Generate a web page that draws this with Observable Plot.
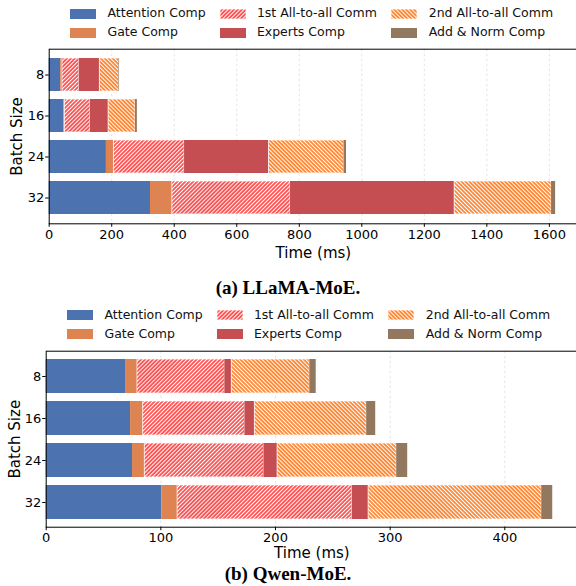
<!DOCTYPE html>
<html>
<head>
<meta charset="utf-8">
<script src="https://cdn.jsdelivr.net/npm/d3@7"></script>
<script src="https://cdn.jsdelivr.net/npm/@observablehq/plot@0.6"></script>
<style>
  html, body { margin: 0; padding: 0; background: #fff; overflow: hidden; }
  #fig { position: relative; width: 576px; height: 586px; overflow: hidden; background: #fff; font-family: "DejaVu Sans", sans-serif; }
  #fig svg.plotsvg { position: absolute; left: 0; max-width: none !important; background: transparent; }
  .leg-swatch { position: absolute; width: 26px; height: 10px; }
  .leg-text { position: absolute; font-size: 12.5px; color: #111; line-height: 14px; white-space: nowrap; }
  .caption { position: absolute; left: 0; width: 576px; text-align: center; font-family: "Liberation Serif", serif; font-weight: bold; font-size: 19px; color: #000; line-height: 19px; }
</style>
</head>
<body>
<svg width="0" height="0" style="position:absolute">
  <defs>
    <pattern id="hatchRed" patternUnits="userSpaceOnUse" width="2.8" height="2.8" patternTransform="rotate(45)">
      <rect width="2.8" height="2.8" fill="#ff4f4f"></rect>
      <rect width="1.0" height="2.8" fill="#ffffff"></rect>
    </pattern>
    <pattern id="hatchOrange" patternUnits="userSpaceOnUse" width="2.8" height="2.8" patternTransform="rotate(-45)">
      <rect width="2.8" height="2.8" fill="#ff8530"></rect>
      <rect width="1.0" height="2.8" fill="#ffffff"></rect>
    </pattern>
  </defs>
</svg>
<div id="fig"></div>
<script>
// ---------- data ----------
const batchSizes = ["8", "16", "24", "32"];
const components = ["Attention Comp", "Gate Comp", "1st All-to-all Comm", "Experts Comp", "2nd All-to-all Comm", "Add & Norm Comp"];
const hatchedComponents = ["1st All-to-all Comm", "2nd All-to-all Comm"];
const componentColors = ["#4c72b0", "#dd8452", "url(#hatchRed)", "#c44e52", "url(#hatchOrange)", "#937860"];

// LLaMA-MoE (ms)
const llamaAttention = [37, 47, 183, 324];
const llamaGate = [5.5, 3, 24, 70];
const llamaA2A1 = [53.5, 82, 226, 378];
const llamaExperts = [66, 58, 270, 525];
const llamaA2A2 = [61, 86, 240, 310];
const llamaAddNorm = [2, 6, 8, 13];
const llamaTicks = [0, 200, 400, 600, 800, 1000, 1200, 1400, 1600];

// Qwen-MoE (ms)
const qwenAttention = [69.2, 73.6, 75.3, 100.9];
const qwenGate = [10.4, 11, 10.7, 13.7];
const qwenA2A1 = [76.2, 88.7, 103.9, 152.4];
const qwenExperts = [6.1, 8.7, 11.9, 14.2];
const qwenA2A2 = [68, 97.5, 103.9, 151];
const qwenAddNorm = [5.6, 7.9, 9.6, 9.6];
const qwenTicks = [0, 100, 200, 300, 400];

const captions = ["(a) LLaMA-MoE.", "(b) Qwen-MoE."];

// ---------- build ----------
const fig = document.getElementById("fig");

function rowsFor(series) {
  const rows = [];
  batchSizes.forEach((b, i) => {
    components.forEach((c, j) => rows.push({batch: b, component: c, value: series[j][i]}));
  });
  return rows;
}

function panel({series, ticks, xMax, top, height, marginLeft, marginTop, marginBottom, labelDx, labelDy, legendY, captionY, caption}) {
  const rows = rowsFor(series);
  const svg = Plot.plot({
    width: 580,
    height,
    marginLeft,
    marginRight: 3,
    marginTop,
    marginBottom,
    x: {domain: [0, xMax]},
    y: {domain: batchSizes, paddingInner: 0.2, paddingOuter: 0.19, align: 0.5},
    color: {domain: components, range: componentColors},
    style: {fontFamily: "DejaVu Sans", fontSize: "13px", color: "#000", background: "transparent"},
    marks: [
      Plot.gridX({ticks: ticks.filter(t => t > 0), stroke: "#cfcfcf", strokeOpacity: 0.7, strokeDasharray: "2.5,2.5", strokeWidth: 0.8}),
      Plot.barX(rows, Plot.stackX({
        x: "value", y: "batch", fill: "component",
        stroke: "#ffffff", strokeWidth: 0.9,
        strokeOpacity: d => hatchedComponents.includes(d.component) ? 0.8 : 0
      })),
      Plot.frame({stroke: "#000", strokeWidth: 1}),
      Plot.axisX({ticks, tickSize: 3.5, tickPadding: 2, fontSize: 13, label: null, tickFormat: d => String(d)}),
      Plot.axisY({tickSize: 3.5, tickPadding: 1.5, fontSize: 13, label: null}),
      Plot.text(["Time (ms)"], {text: d => d, frameAnchor: "bottom", lineAnchor: "middle", textAnchor: "middle", dy: labelDy, fontSize: 15}),
      Plot.text(["Batch Size"], {text: d => d, frameAnchor: "left", lineAnchor: "middle", textAnchor: "middle", dx: labelDx, rotate: -90, fontSize: 15})
    ]
  });
  svg.classList.add("plotsvg");
  svg.style.top = top + "px";
  svg.style.maxWidth = "none";
  fig.appendChild(svg);

  // legend (3 columns x 2 rows, column-major), centered over plot area
  const swatchOff = [21.5, 171, 342.5];
  const textOff = [58.8, 208.2, 380];
  components.forEach((c, k) => {
    const col = Math.floor(k / 2), row = k % 2;
    const cy = legendY[row];
    const sw = document.createElementNS("http://www.w3.org/2000/svg", "svg");
    sw.setAttribute("class", "leg-swatch");
    sw.setAttribute("width", 26);
    sw.setAttribute("height", 10);
    sw.style.left = (marginLeft + swatchOff[col]) + "px";
    sw.style.top = (cy - 5) + "px";
    const r = document.createElementNS("http://www.w3.org/2000/svg", "rect");
    r.setAttribute("width", 26);
    r.setAttribute("height", 10);
    r.setAttribute("fill", componentColors[k]);
    if (hatchedComponents.includes(c)) {
      r.setAttribute("stroke", "#ffffff");
      r.setAttribute("stroke-opacity", 0.8);
      r.setAttribute("stroke-width", 0.9);
    }
    sw.appendChild(r);
    fig.appendChild(sw);
    const t = document.createElement("div");
    t.className = "leg-text";
    t.textContent = c;
    t.style.left = (marginLeft + textOff[col]) + "px";
    t.style.top = (cy - 7.5) + "px";
    fig.appendChild(t);
  });

  const cap = document.createElement("div");
  cap.className = "caption";
  cap.textContent = caption;
  cap.style.top = (captionY - 9.5) + "px";
  fig.appendChild(cap);
}

panel({
  series: [llamaAttention, llamaGate, llamaA2A1, llamaExperts, llamaA2A2, llamaAddNorm],
  ticks: llamaTicks, xMax: 1690, top: 0, height: 266,
  marginLeft: 48.7, marginTop: 48.7, marginBottom: 266 - 223.3,
  labelDx: -31.7, labelDy: 29,
  legendY: [13.8, 32.5], captionY: 287, caption: captions[0]
});

panel({
  series: [qwenAttention, qwenGate, qwenA2A1, qwenExperts, qwenA2A2, qwenAddNorm],
  ticks: qwenTicks, xMax: 463.4, top: 300, height: 266,
  marginLeft: 45.7, marginTop: 50.7, marginBottom: 266 - 226.7,
  labelDx: -31, labelDy: 26,
  legendY: [315, 334], captionY: 573.5, caption: captions[1]
});
</script>
</body>
</html>
